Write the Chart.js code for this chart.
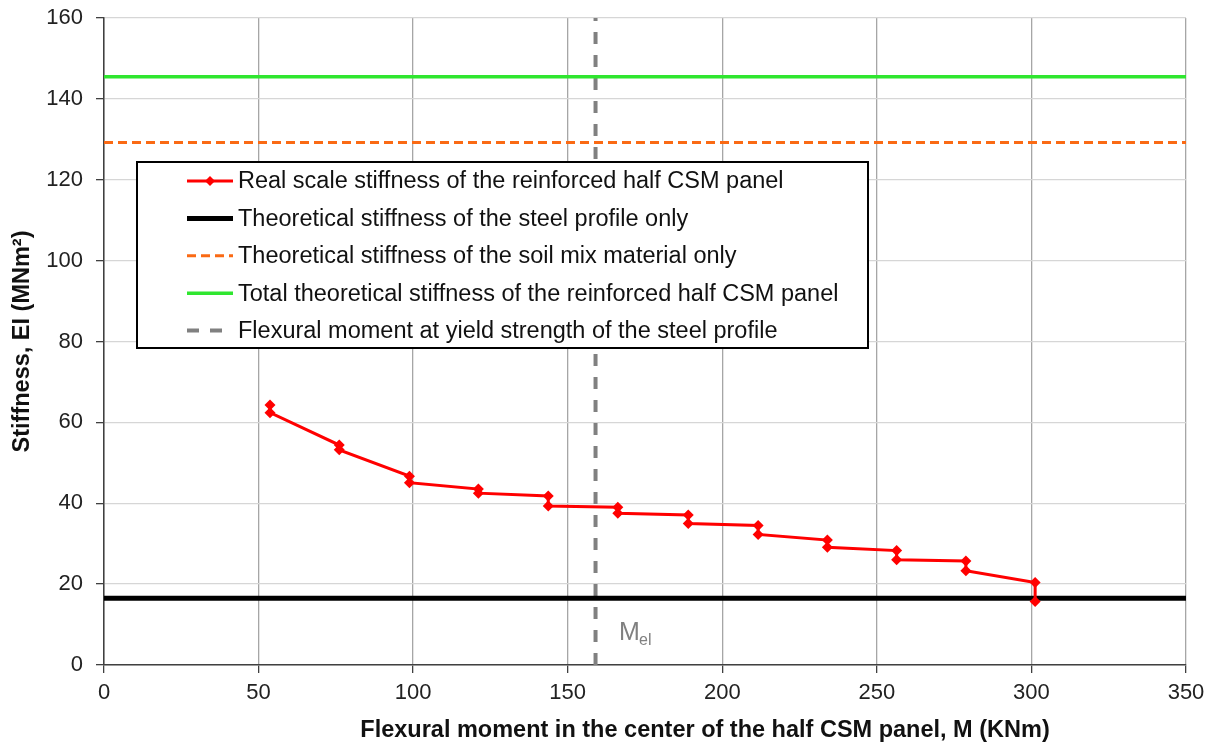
<!DOCTYPE html>
<html>
<head>
<meta charset="utf-8">
<title>Stiffness vs flexural moment</title>
<script src="https://cdn.jsdelivr.net/npm/chart.js@4/dist/chart.umd.min.js"></script>
<style>
  html, body { margin: 0; padding: 0; background: #fff; }
  #wrap { width: 1215px; height: 749px; }
</style>
</head>
<body>
<div id="wrap"><canvas id="chart" width="1215" height="749"></canvas></div>
<script>
// measured points (each load step gives two readings)
const moments = [53.7, 53.7, 76.1, 76.1, 98.8, 98.8, 121.1, 121.1, 143.7, 143.7, 166.2, 166.2,
  189.0, 189.0, 211.6, 211.6, 234.0, 234.0, 256.4, 256.4, 278.8, 278.8, 301.2, 301.2];
const stiffness = [64.3, 62.4, 54.4, 53.2, 46.7, 45.1, 43.5, 42.5, 41.8, 39.3, 39.0, 37.5,
  37.1, 35.0, 34.5, 32.3, 30.9, 29.1, 28.3, 26.0, 25.7, 23.3, 20.4, 15.7];

// theoretical reference lines
const xRange = [0, 350];
const steelOnly = [16.5, 16.5];
const soilMixOnly = [129.2, 129.2];
const totalTheory = [145.5, 145.5];
const yieldMoment = [159, 159];
const yRange = [0, 160];

const legendLabels = [
  'Real scale stiffness of the reinforced half CSM panel',
  'Theoretical stiffness of the steel profile only',
  'Theoretical stiffness of the soil mix material only',
  'Total theoretical stiffness of the reinforced half CSM panel',
  'Flexural moment at yield strength of the steel profile'
];
const xTitle = 'Flexural moment in the center of the half CSM panel, M (KNm)';

const FONT = "'Liberation Sans', Arial, sans-serif";

const pts = (xs, ys) => xs.map((x, i) => ({ x: x, y: ys[i] }));

// draws the boxed legend inside the plot, the M_el label and the x title
// (the x title sits off-centre in the original, so it is drawn here)
const boxLegend = {
  id: 'boxLegend',
  afterDraw(chart) {
    const ctx = chart.ctx;
    const a = chart.chartArea;
    const ds = chart.data.datasets;
    ctx.save();

    // M_el label next to the yield line
    ctx.fillStyle = '#808080';
    ctx.textBaseline = 'alphabetic';
    ctx.font = '25px ' + FONT;
    ctx.fillText('M', a.left + 515, a.top + 622);
    ctx.font = '16px ' + FONT;
    ctx.fillText('el', a.left + 535, a.top + 627);

    // x axis title
    ctx.fillStyle = '#111';
    ctx.font = 'bold 23.5px ' + FONT;
    ctx.textAlign = 'center';
    ctx.textBaseline = 'middle';
    ctx.fillText(xTitle, a.left + 601, a.bottom + 66);
    ctx.textAlign = 'left';

    const bx = a.left + 33, by = a.top + 144, bw = 731, bh = 186;
    ctx.fillStyle = '#fff';
    ctx.fillRect(bx, by, bw, bh);
    ctx.strokeStyle = '#000';
    ctx.lineWidth = 2;
    ctx.strokeRect(bx, by, bw, bh);

    ctx.font = '23.5px ' + FONT;
    for (let i = 0; i < legendLabels.length; i++) {
      const d = ds[i];
      const y = by + 19 + i * 37.4;
      ctx.beginPath();
      ctx.setLineDash(d.borderDash || []);
      ctx.strokeStyle = d.borderColor;
      ctx.lineWidth = d.borderWidth;
      ctx.moveTo(bx + 50, y);
      ctx.lineTo(bx + 96, y);
      ctx.stroke();
      ctx.setLineDash([]);
      if (d.pointRadius) {
        ctx.fillStyle = d.pointBackgroundColor;
        ctx.beginPath();
        ctx.moveTo(bx + 73, y - 5);
        ctx.lineTo(bx + 78, y);
        ctx.lineTo(bx + 73, y + 5);
        ctx.lineTo(bx + 68, y);
        ctx.closePath();
        ctx.fill();
      }
      ctx.fillStyle = '#111';
      ctx.fillText(legendLabels[i], bx + 101, y + 1);
    }
    ctx.restore();
  }
};

new Chart(document.getElementById('chart'), {
  type: 'scatter',
  data: {
    datasets: [
      {
        label: legendLabels[0],
        data: pts(moments, stiffness),
        showLine: true,
        borderColor: '#ff0000',
        borderWidth: 3,
        pointStyle: 'rectRot',
        pointRadius: 5.5,
        pointBorderWidth: 0,
        pointBackgroundColor: '#ff0000',
        pointBorderColor: '#ff0000'
      },
      {
        label: legendLabels[1],
        data: pts(xRange, steelOnly),
        showLine: true,
        borderColor: '#000000',
        borderWidth: 5,
        pointRadius: 0
      },
      {
        label: legendLabels[2],
        data: pts(xRange, soilMixOnly),
        showLine: true,
        borderColor: '#fa6a14',
        borderWidth: 3,
        borderDash: [9, 5],
        pointRadius: 0
      },
      {
        label: legendLabels[3],
        data: pts(xRange, totalTheory),
        showLine: true,
        borderColor: '#2fe62f',
        borderWidth: 3.5,
        pointRadius: 0
      },
      {
        label: legendLabels[4],
        data: pts(yieldMoment, yRange),
        showLine: true,
        borderColor: '#808080',
        borderWidth: 4,
        borderDash: [12, 11],
        pointRadius: 0
      }
    ]
  },
  options: {
    responsive: false,
    animation: false,
    events: [],
    layout: { padding: { top: 18, right: 29, left: 0, bottom: 0 } },
    plugins: {
      legend: { display: false },
      tooltip: { enabled: false }
    },
    scales: {
      x: {
        type: 'linear',
        min: 0,
        max: 350,
        afterFit: (s) => { s.height = 84; },
        ticks: {
          stepSize: 50,
          padding: 7,
          color: '#222',
          font: { family: FONT, size: 22 }
        },
        grid: { color: '#a6a6a6', lineWidth: 1.3, tickLength: 8, tickColor: '#404040' },
        border: { color: '#404040', width: 1.5 }
      },
      y: {
        type: 'linear',
        min: 0,
        max: 160,
        afterFit: (s) => { s.width = 104; s.paddingTop = 0; s.paddingBottom = 0; },
        ticks: {
          stepSize: 20,
          padding: 13,
          color: '#222',
          font: { family: FONT, size: 22 }
        },
        grid: { color: '#d6d6d6', lineWidth: 1.3, tickLength: 8, tickColor: '#404040' },
        border: { color: '#404040', width: 1.5 },
        title: {
          display: true,
          text: 'Stiffness, EI (MNm²)',
          color: '#111',
          font: { family: FONT, size: 23.5, weight: 'bold' },
          padding: { top: 8, bottom: 0 }
        }
      }
    }
  },
  plugins: [boxLegend]
});
</script>
</body>
</html>
